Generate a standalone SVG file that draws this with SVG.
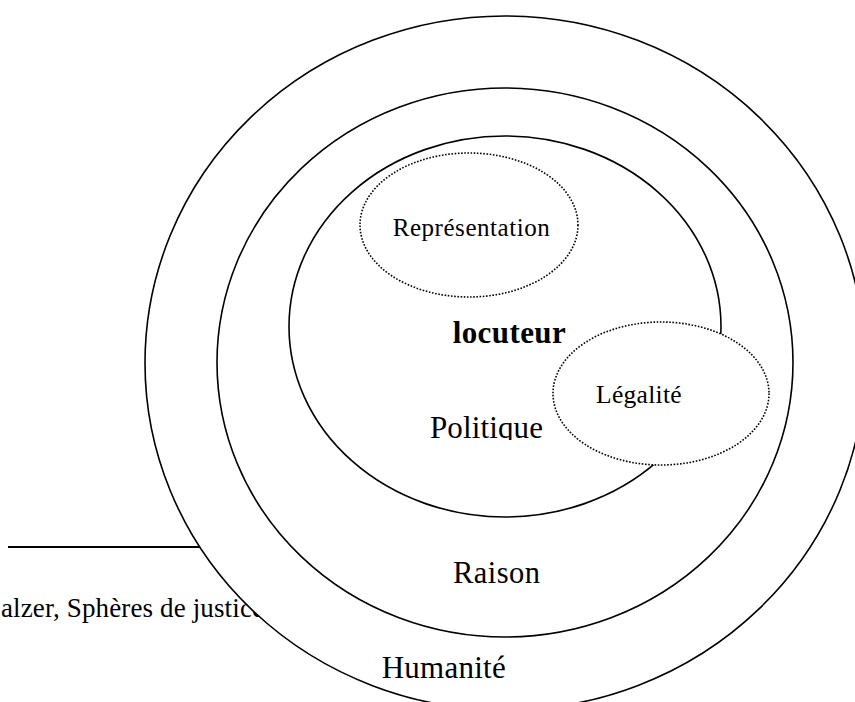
<svg xmlns="http://www.w3.org/2000/svg" width="855" height="702" viewBox="0 0 855 702">
  <style>
    .ring { fill: #ffffff; stroke: #000000; stroke-width: 1.6; }
    .dot { fill: #ffffff; stroke: #000000; stroke-width: 1.6; stroke-dasharray: 1.6 1.6; }
    .t { font-family: "Liberation Serif", "Times New Roman", serif; fill: #000000; }
  </style>
  <defs>
    <clipPath id="clipPol">
      <rect x="400" y="400" width="180" height="40"/>
    </clipPath>
  </defs>
  <rect x="0" y="0" width="855" height="702" fill="#ffffff"/>
  <g id="footnote">
    <line x1="8" y1="547" x2="260" y2="547" stroke="#000000" stroke-width="1.8"/>
    <text class="t" x="1" y="616.7" font-size="27" textLength="263" lengthAdjust="spacing">alzer, Sphères de justice</text>
  </g>
  <g id="humanite">
    <ellipse class="ring" cx="505" cy="363" rx="360" ry="347"/>
    <text class="t" x="381.7" y="678.3" font-size="31" textLength="124" lengthAdjust="spacing">Humanité</text>
  </g>
  <g id="raison">
    <ellipse class="ring" cx="505" cy="362.5" rx="288" ry="274.5"/>
    <text class="t" x="453" y="582.7" font-size="30.5" textLength="87" lengthAdjust="spacing">Raison</text>
  </g>
  <g id="politique">
    <ellipse class="ring" cx="505" cy="326.5" rx="216" ry="190.5"/>
    <text class="t" x="452.7" y="342.7" font-size="31" font-weight="bold" textLength="113" lengthAdjust="spacing">locuteur</text>
    <text class="t" x="430" y="438.3" font-size="31" textLength="113" lengthAdjust="spacing" clip-path="url(#clipPol)">Politique</text>
  </g>
  <g id="representation">
    <ellipse class="dot" cx="469" cy="225" rx="109" ry="72"/>
    <text class="t" x="392.7" y="236" font-size="25" textLength="157" lengthAdjust="spacing">Représentation</text>
  </g>
  <g id="legalite">
    <ellipse class="dot" cx="661" cy="393.5" rx="108" ry="71.5"/>
    <text class="t" x="596" y="403" font-size="25.5" textLength="85.7" lengthAdjust="spacing">Légalité</text>
  </g>
  <g id="connectors"></g>
</svg>
